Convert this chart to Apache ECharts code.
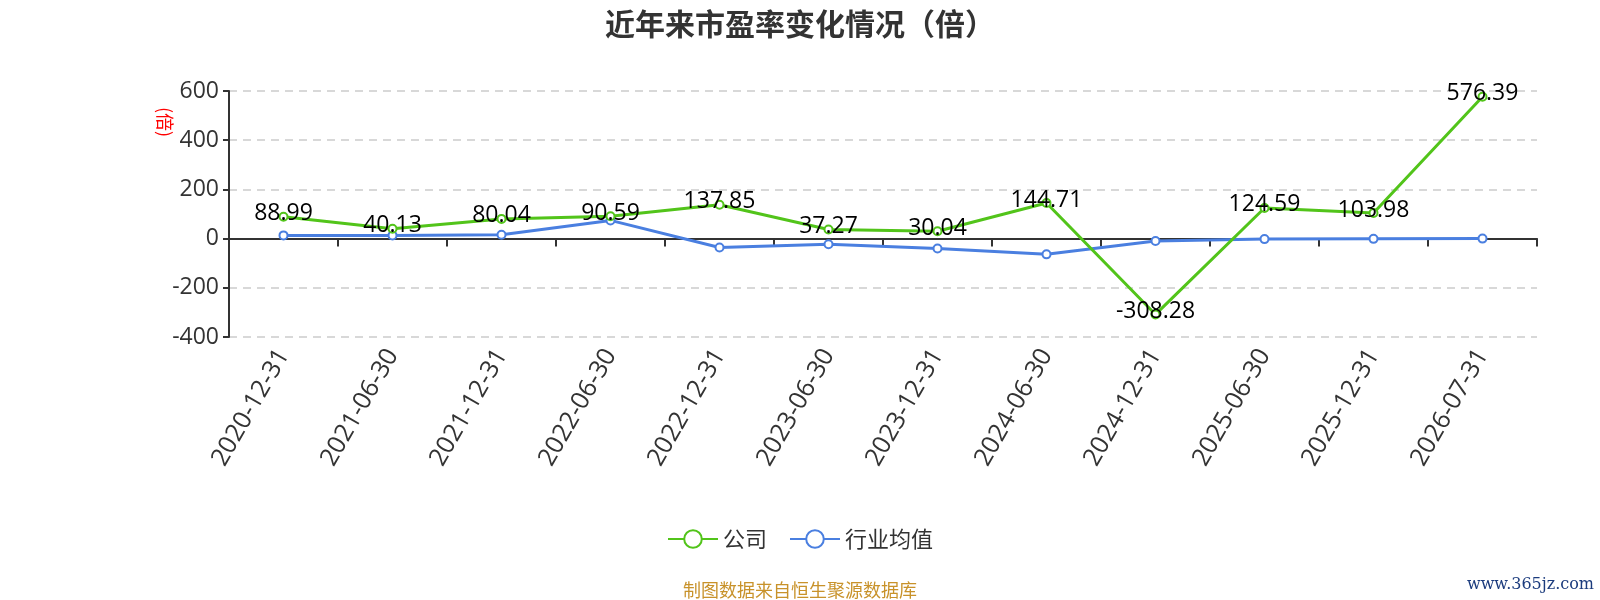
<!DOCTYPE html>
<html>
<head>
<meta charset="utf-8">
<script src="https://cdn.jsdelivr.net/npm/echarts@6/dist/echarts.min.js"></script>
<style>html,body{margin:0;padding:0;background:#fff;}#c{width:1600px;height:600px;}</style>
</head>
<body>
<div id="c"></div>
<script>
var categories = ['2020-12-31','2021-06-30','2021-12-31','2022-06-30','2022-12-31','2023-06-30','2023-12-31','2024-06-30','2024-12-31','2025-06-30','2025-12-31','2026-07-31'];
var companyValues = [88.99, 40.13, 80.04, 90.59, 137.85, 37.27, 30.04, 144.71, -308.28, 124.59, 103.98, 576.39];
var industryValues = [13, 13, 16, 74, -36, -23, -40, -64, -10, -2, -1, 0];
var seriesNames = ['公司', '行业均值'];
var titleText = '近年来市盈率变化情况（倍）';
var yName = '(倍)';
var footerText = '制图数据来自恒生聚源数据库';
var watermarkText = 'www.365jz.com';

var font = '"Open Sans", "Noto Sans CJK SC", sans-serif';
var cjk = '"Noto Sans CJK SC", sans-serif';
var chart = echarts.init(document.getElementById('c'));
chart.setOption({
  backgroundColor: '#fff',
  animation: false,
  textStyle: { fontFamily: font },
  title: {
    text: titleText, left: 'center', top: 4,
    textStyle: { fontSize: 30, fontWeight: 'bold', color: '#333', fontFamily: cjk }
  },
  legend: {
    data: seriesNames, left: 'center', top: 523,
    itemWidth: 50, itemHeight: 22, itemGap: 22,
    textStyle: { fontSize: 22, color: '#333', fontFamily: cjk }
  },
  grid: { left: 229, right: 63, top: 91, bottom: 263, containLabel: false },
  xAxis: {
    type: 'category', data: categories, boundaryGap: true,
    axisLine: { onZero: true, lineStyle: { color: '#333', width: 2 } },
    axisTick: { show: true, length: 8, lineStyle: { color: '#333', width: 2 } },
    axisLabel: { rotate: 60, fontSize: 25, color: '#333', margin: 14, interval: 0, fontFamily: font }
  },
  yAxis: {
    type: 'value', min: -400, max: 600, interval: 200,
    axisLine: { show: true, lineStyle: { color: '#333', width: 2 } },
    axisTick: { show: true, length: 6, lineStyle: { color: '#333', width: 2 } },
    axisLabel: { fontSize: 23, color: '#333', margin: 10, fontFamily: font },
    splitLine: { show: true, lineStyle: { color: '#ccc', type: [8, 6], width: 1.5 } }
  },
  series: [
    {
      name: seriesNames[0], type: 'line', data: companyValues,
      symbol: 'emptyCircle', symbolSize: 8,
      lineStyle: { color: '#52c41a', width: 3 },
      itemStyle: { color: '#52c41a', borderWidth: 2 },
      label: { show: true, position: 'inside', offset: [0, -3], fontSize: 23, color: '#000', fontFamily: font },
      z: 3
    },
    {
      name: seriesNames[1], type: 'line', data: industryValues,
      symbol: 'emptyCircle', symbolSize: 8,
      lineStyle: { color: '#4a7fe0', width: 3 },
      itemStyle: { color: '#4a7fe0', borderWidth: 2 },
      label: { show: false },
      z: 2
    }
  ],
  graphic: [
    {
      type: 'text', x: 165, y: 122, rotation: -Math.PI / 2,
      style: { text: yName, fill: '#ff0000', fontSize: 18, fontFamily: cjk, align: 'center', verticalAlign: 'middle' }
    },
    {
      type: 'text', x: 800, y: 590,
      style: { text: footerText, fill: '#c8922a', fontSize: 18, fontFamily: cjk, align: 'center', verticalAlign: 'middle' }
    },
    {
      type: 'text', x: 1594, y: 585,
      style: { text: watermarkText, fill: '#1b3b7d', fontSize: 16, fontFamily: '"DejaVu Serif", serif', align: 'right', verticalAlign: 'middle' }
    }
  ]
});
</script>
</body>
</html>
